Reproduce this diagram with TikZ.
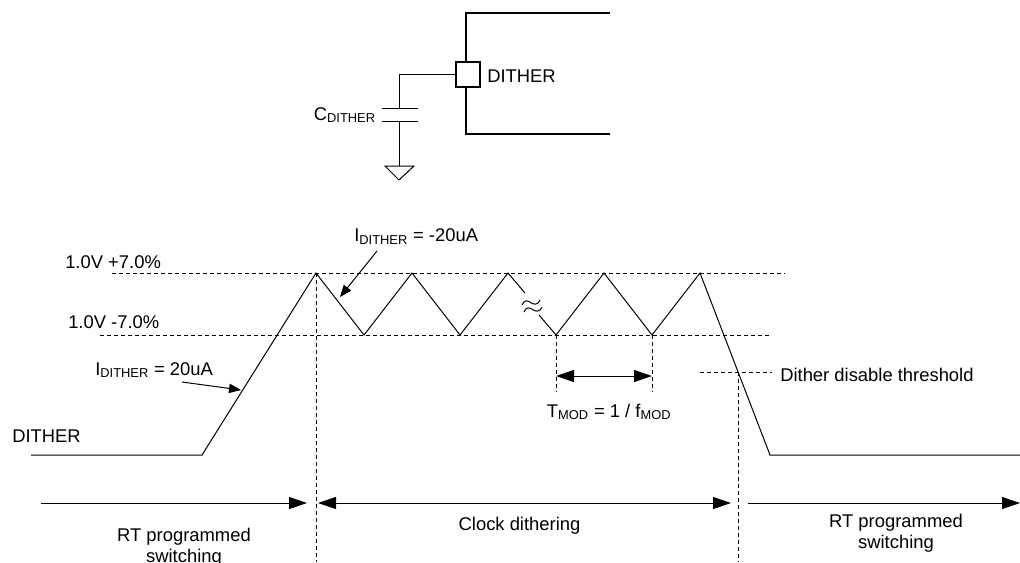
\documentclass[tikz,border=0pt]{standalone}
\usepackage{fontspec}
\setmainfont{Liberation Sans}
\usetikzlibrary{arrows.meta}

\tikzset{
  lbl/.style={inner sep=0pt, font=\fontsize{13.8}{15.75}\selectfont},
  thin/.style={line width=0.75pt},
  thick box/.style={line width=1.5pt},
  guide/.style={line width=0.75pt, dash pattern=on 3pt off 2.25pt},
  bigtip/.style={line width=0.75pt, -{Triangle[length=13.5pt,width=9pt]}},
  smalltip/.style={line width=0.75pt, -{Triangle[length=9pt,width=7pt]}},
  twotip/.style={line width=0.75pt, {Triangle[length=13.5pt,width=9pt]}-{Triangle[length=13.5pt,width=9pt]}},
}

\begin{document}
\begin{tikzpicture}[x=0.75pt,y=-0.75pt]
\useasboundingbox (0,0) rectangle (1020,562);

% device pin and capacitor
\draw[thick box] (610,13) -- (466,13) -- (466,62);
\draw[thick box] (466,87) -- (466,134) -- (610,134);
\node[draw, thick box, inner sep=0pt, minimum width=18pt, minimum height=18.75pt] (pin) at (468,74.5) {};
\node[lbl, anchor=base west] (pinlbl) at (487,82.5) {DITHER};
\coordinate (captop) at (399,108);
\coordinate (capbot) at (399,121);
\coordinate (gnd) at (399,166);
\draw[thin] (pin.west) -| (captop);
\draw[thin] (382,108) -- (418,108);
\draw[thin] (382,121) -- (418,121);
\draw[thin] (capbot) -- (gnd);
\draw[thin] (gnd) -- (385,166) -- (399,180) -- (414,166) -- cycle;
\node[lbl, anchor=base east] (caplbl) at (376,120) {C\textsubscript{DITHER}};

% limits
\draw[guide] (112,273) -- (785,273);
\draw[guide] (100,335) -- (771,335);
\node[lbl, anchor=base west] (hilbl) at (65,268) {1.0V +7.0\%};
\node[lbl, anchor=base west] (lolbl) at (68,328.3) {1.0V -7.0\%};

% waveform
\coordinate (rise) at (202,455);
\coordinate (pk1) at (316,273);
\coordinate (pk5) at (700,273);
\coordinate (fall) at (770,455);
\draw[thin] (31,455) -- (rise) -- (pk1) -- (364,335) -- (412,273) -- (460,335) -- (508,273) -- (525,293);
\draw[thin] (539,315) -- (556,335) -- (604,273) -- (652,335) -- (pk5) -- (fall) -- (1020,455);
\draw[thin] (522,305) .. controls (527,293) and (534,312) .. (540,300);
\draw[thin] (524,312) .. controls (529,300) and (536,319) .. (542,307);
\node[lbl, anchor=base west] (wavelbl) at (12,442.7) {DITHER};

% currents
\node[lbl, anchor=base west] (iup) at (95,375) {I\textsubscript{DITHER} = 20uA};
\draw[smalltip] (182,382) -- (241,390);
\node[lbl, anchor=base west] (idown) at (354,241.7) {I\textsubscript{DITHER} = -20uA};
\draw[smalltip] (377,251) -- (340,297);

% period
\draw[guide] (556,335) -- (556,392);
\draw[guide] (652,335) -- (652,392);
\draw[twotip] (556,376) -- (652,376);
\node[lbl, anchor=base west] (tmod) at (546.7,417) {T\textsubscript{MOD} = 1 / f\textsubscript{MOD}};

% threshold
\draw[guide] (700,372) -- (772,372);
\draw[guide] (738,372) -- (738,562);
\draw[guide] (316,273) -- (316,562);
\node[lbl, anchor=base west] (thr) at (780,381.7) {Dither disable threshold};

% phases
\draw[bigtip] (41,503) -- (307,503);
\draw[twotip] (318,503) -- (731,503);
\draw[bigtip] (748,503) -- (1020,503);
\node[lbl, anchor=base, align=center] (rtleft) at (184,562) {RT programmed\\switching};
\node[lbl, anchor=base] (clk) at (519.5,530) {Clock dithering};
\node[lbl, anchor=base, align=center] (rtright) at (896,548) {RT programmed\\switching};
\end{tikzpicture}
\end{document}
